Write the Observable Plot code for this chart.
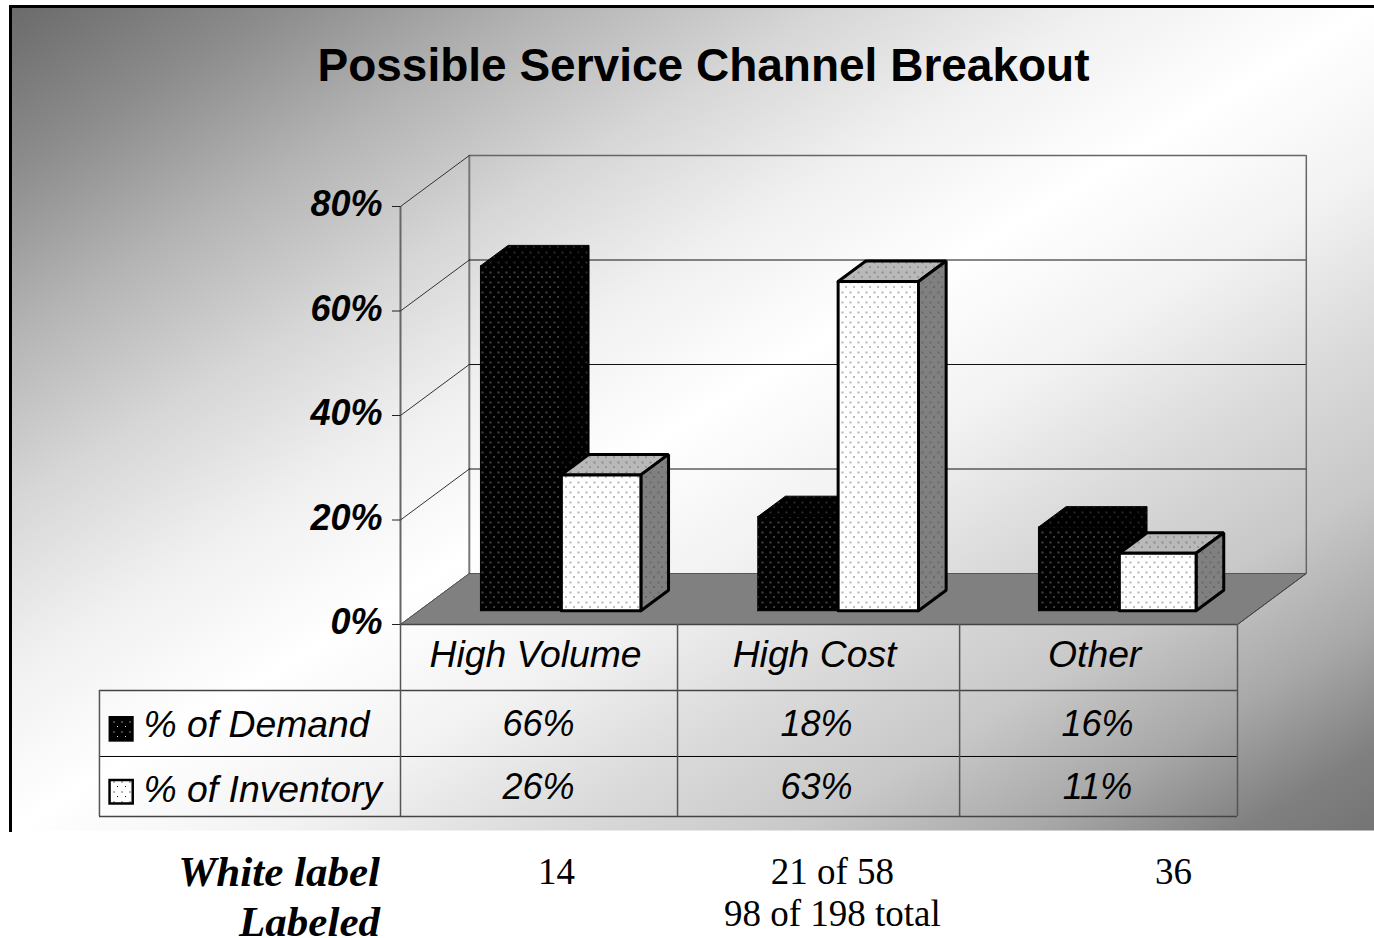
<!DOCTYPE html>
<html>
<head>
<meta charset="utf-8">
<script src="https://cdn.jsdelivr.net/npm/d3@7"></script>
<script src="https://cdn.jsdelivr.net/npm/@observablehq/plot@0.6"></script>
<style>html,body{margin:0;padding:0;background:#fff}svg{display:block}</style>
</head>
<body>
<script>
const chartTitle = "Possible Service Channel Breakout";
const categories = ["High Volume", "High Cost", "Other"];
const demand = [66, 18, 16];
const inventory = [26, 63, 11];
const seriesNames = ["% of Demand", "% of Inventory"];
const yTicks = [0, 20, 40, 60, 80];
const belowHeads = ["White label", "Labeled"];
const belowLine1 = ["14", "21 of 58", "36"];
const belowLine2 = ["98 of 198 total"];

// Layout in data units (x: category columns, y: percent)
const depthX = 0.2466, depthY = 9.76;
const proj = (x, y, d) => ({x: x + d * depthX, y: y + d * depthY});
const columnEdges = [0, 0.993, 2.004, 3];
const catCenters = [0.484, 1.484, 2.488];
const valCenters = [0.495, 1.491, 2.498];
const rowLines = [0, -12.63, -25.26, -36.75];
const tableLeft = -1.079;
const barFront = 0.27, barBack = 0.672;
const barStarts = [0.22, 0.214, 0.22];
const demandW = [0.29, 0.288, 0.29];
const invW = [0.285, 0.288, 0.275];

const poly = (id, pts) => [...pts, pts[0]].map(p => ({id, ...p}));
function box(id, x0, w, v) {
  const x1 = x0 + w;
  return {
    top: poly(id + "t", [proj(x0, v, barFront), proj(x1, v, barFront), proj(x1, v, barBack), proj(x0, v, barBack)]),
    side: poly(id + "s", [proj(x1, 0, barFront), proj(x1, v, barFront), proj(x1, v, barBack), proj(x1, 0, barBack)]),
    front: poly(id + "f", [proj(x0, 0, barFront), proj(x1, 0, barFront), proj(x1, v, barFront), proj(x0, v, barFront)])
  };
}
const dBoxes = demand.map((v, i) => box("d" + i, i + barStarts[i], demandW[i], v));
const iBoxes = inventory.map((v, i) => box("i" + i, i + barStarts[i] + demandW[i], invW[i], v));

const floorPoly = poly("floor", [proj(0, 0, 0), proj(3, 0, 0), proj(3, 0, 1), proj(0, 0, 1)]);
const gridBack = yTicks.map(t => ({t, ...proj(0, t, 1), x2: 3 + depthX}));
const slants = yTicks.flatMap(t => [{id: t, ...proj(0, t, 0)}, {id: t, ...proj(0, t, 1)}]);
const rightSlant = [proj(3, 0, 0), proj(3, 0, 1)];

const gradientStops = [[0, "#6a6a6a"], [0.1, "#8c8c8c"], [0.2, "#b4b4b4"], [0.3, "#d6d6d6"], [0.4, "#f0f0f0"], [0.5, "#ffffff"], [0.6, "#f2f2f2"], [0.69, "#dcdcdc"], [0.79, "#c8c8c8"], [0.875, "#a8a8a8"], [0.95, "#808080"], [1, "#747474"]];

function defs() {
  const d = d3.create("svg:defs");
  const g = d.append("linearGradient").attr("id", "bg").attr("x1", 0).attr("y1", 0).attr("x2", 1).attr("y2", 1);
  gradientStops.forEach(([o, c]) => g.append("stop").attr("offset", o).attr("stop-color", c));
  const pat = (id, bg, c1, c2) => {
    const p = d.append("pattern").attr("id", id).attr("patternUnits", "userSpaceOnUse").attr("width", 8).attr("height", 10);
    p.append("rect").attr("width", 8).attr("height", 10).attr("fill", bg);
    p.append("rect").attr("x", 1).attr("y", 1).attr("width", 2).attr("height", 2).attr("fill", c2);
    p.append("rect").attr("x", 5).attr("y", 6).attr("width", 1).attr("height", 1).attr("fill", c1);
  };
  pat("dWhite", "#fff", "#000", "#b4b4b4");
  pat("dTop", "#b9b9b9", "#333", "#8a8a8a");
  pat("dSide", "#808080", "#222", "#6a6a6a");
  pat("dBlack", "#000", "#e8e8e8", "#444");
  pat("dBlackDim", "#000", "#777", "#2a2a2a");
  return d.node();
}

const sans = "'Liberation Sans', Arial, sans-serif";
const serif = "'Liberation Serif', 'Times New Roman', serif";
const faceLine = (data, fill, sw = 3, stroke = "#000") =>
  Plot.line(data, {x: "x", y: "y", z: "id", fill, stroke, strokeWidth: sw, strokeLinejoin: "miter"});
const tableText = {fontFamily: sans, fontStyle: "italic", fontSize: 36, fill: "#000"};
const labelText = {...tableText, fontSize: 37.3};

const chart = Plot.plot({
  width: 1374, height: 938,
  marginLeft: 10, marginTop: 6, marginRight: 0, marginBottom: 108,
  style: {background: "#fff", fontFamily: sans},
  x: {domain: [0, 3], range: [400, 1237], axis: null},
  y: {domain: [0, 80], range: [624, 206], axis: null},
  marks: [
    defs,
    Plot.frame({fill: "url(#bg)"}),
    Plot.frame({anchor: "top", stroke: "#000", strokeWidth: 3}),
    Plot.frame({anchor: "left", stroke: "#000", strokeWidth: 3}),
    Plot.text([chartTitle], {frameAnchor: "top", dx: 11, dy: 60, lineAnchor: "middle", fontFamily: sans, fontWeight: "bold", fontSize: 46, fill: "#000"}),

    // walls
    Plot.ruleX([0], {y1: 0, y2: 80, stroke: "#666", strokeWidth: 2}),
    Plot.ruleX([depthX], {y1: depthY, y2: 80 + depthY, stroke: "#777", strokeWidth: 2}),
    Plot.ruleX([3 + depthX], {y1: depthY, y2: 80 + depthY, stroke: "#666", strokeWidth: 1.5}),
    Plot.ruleY(gridBack, {y: "y", x1: "x", x2: "x2", stroke: d => d.t === 80 ? "#666" : "#111", strokeWidth: d => d.t === 80 ? 1.5 : 1}),
    Plot.line(slants, {x: "x", y: "y", z: "id", stroke: "#333", strokeWidth: 1}),
    faceLine(floorPoly, "#808080", 1, "#555"),
    Plot.line(rightSlant, {x: "x", y: "y", stroke: "#444", strokeWidth: 1}),

    // y axis
    Plot.axisY({anchor: "left", dx: 390, ticks: yTicks, tickSize: 8, tickFormat: "", text: null, label: null, stroke: "#222"}),
    Plot.axisY({anchor: "left", dx: 372, dy: -2, ticks: yTicks, tickSize: 0, tickPadding: 0, tickFormat: d => d + "%", label: null, fontSize: 36, fontStyle: "italic", fontWeight: "bold", fontFamily: sans, fill: "#000"}),

    // bars
    ...dBoxes.flatMap(b => [
      faceLine(b.side, "url(#dBlackDim)", 1),
      faceLine(b.top, "url(#dBlackDim)", 1),
      faceLine(b.front, "url(#dBlack)", 1)
    ]),
    ...iBoxes.flatMap(b => [
      faceLine(b.top, "url(#dTop)"),
      faceLine(b.side, "url(#dSide)"),
      faceLine(b.front, "url(#dWhite)")
    ]),

    // table
    Plot.ruleY([rowLines[0]], {x1: columnEdges[0], x2: columnEdges[3], stroke: "#444", strokeWidth: 1.5}),
    Plot.ruleY(rowLines.slice(1), {x1: tableLeft, x2: columnEdges[3], stroke: (d, i) => i === 1 ? "#000" : "#444", strokeWidth: (d, i) => i === 1 ? 1 : 1.5}),
    Plot.ruleX(columnEdges, {y1: rowLines[0], y2: rowLines[3], stroke: "#555", strokeWidth: 1.5}),
    Plot.ruleX([tableLeft], {y1: rowLines[1], y2: rowLines[3], stroke: "#555", strokeWidth: 1.5}),
    Plot.text(categories, {x: (d, i) => catCenters[i], y: () => -5.93, ...labelText}),
    Plot.text(demand, {x: (d, i) => valCenters[i], y: () => -19.14, text: d => d + "%", ...tableText}),
    Plot.text(inventory, {x: (d, i) => valCenters[i], y: () => -31.2, text: d => d + "%", ...tableText}),
    Plot.text(seriesNames, {x: () => -0.921, y: (d, i) => [-19.33, -31.6][i], textAnchor: "start", ...labelText}),
    Plot.rect([0], {x1: -1.041, x2: -0.958, y1: -17.8, y2: -22.33, fill: "url(#dBlack)", stroke: "#000", strokeWidth: 2}),
    Plot.rect([0], {x1: -1.041, x2: -0.958, y1: -29.86, y2: -34.35, fill: "url(#dWhite)", stroke: "#000", strokeWidth: 2.5}),

    // below chart
    Plot.text(belowHeads, {x: () => -0.0735, y: (d, i) => [-47.4, -56.9][i], textAnchor: "end", fontFamily: serif, fontStyle: "italic", fontWeight: "bold", fontSize: 43, fill: "#000"}),
    Plot.text(belowLine1, {x: (d, i) => [0.559, 1.548, 2.771][i], y: () => -47.4, fontFamily: serif, fontSize: 37, fill: "#000"}),
    Plot.text(belowLine2, {x: () => 1.548, y: () => -55.5, fontFamily: serif, fontSize: 37, fill: "#000"})
  ]
});
document.body.appendChild(chart);
</script>
</body>
</html>
